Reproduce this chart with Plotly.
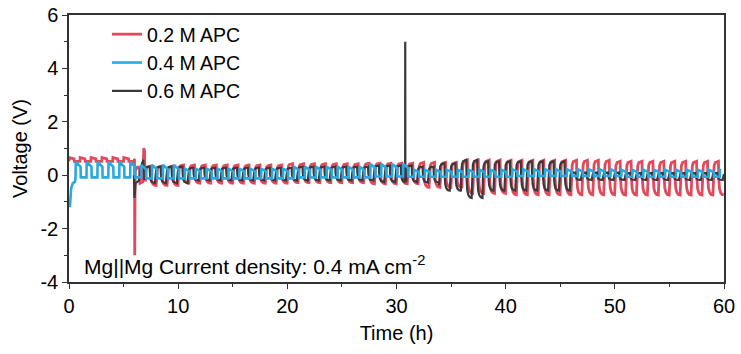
import plotly.graph_objects as go

PERIOD = 1.0  # h, one plating/stripping cycle

# axis ticks
x_tickvals = [0, 10, 20, 30, 40, 50, 60]
y_tickvals = [-4, -2, 0, 2, 4, 6]
y_ticktext = ["-4", "-2", "0", "2", "4", "6"]

# ---------------- 0.2 M APC (red) ----------------
red_pre_block_start = [0.0]
red_pre_high = [0.66]
red_pre_low = [0.52]
red_trans_t = [6.0, 6.02, 6.06, 6.25, 6.45, 6.5, 6.75, 6.85, 6.92, 6.97]
red_trans_v = [0.62, -3.0, 0.15, 0.30, 0.30, -0.30, -0.25, 1.02, 0.90, -0.10]
red_block_start = [7, 10, 20, 27, 32, 36, 40, 50]
red_high = [0.34, 0.38, 0.43, 0.45, 0.48, 0.57, 0.56, 0.52]
red_low = [-0.38, -0.30, -0.28, -0.32, -0.45, -0.68, -0.73, -0.74]

# ---------------- 0.4 M APC (blue) ----------------
blue_init_t = [0.08, 0.2, 0.35, 0.55]
blue_init_v = [-1.2, -0.48, -0.30, -0.25]
blue_block_start = [0.6, 6, 10, 20, 27, 31, 40, 50]
blue_high = [0.50, 0.38, 0.25, 0.32, 0.42, 0.20, 0.22, 0.20]
blue_low = [-0.08, -0.12, -0.12, -0.08, -0.05, -0.06, -0.03, -0.06]

# ---------------- 0.6 M APC (black) ----------------
black_init_t = [5.95, 6.0, 6.1, 6.4, 6.6, 6.8, 6.88]
black_init_v = [0.0, -0.85, -0.30, -0.20, 0.30, 0.58, 0.10]
black_block_start = [6.9, 10, 20, 27, 31, 33, 35, 37, 45, 50]
black_high = [0.32, 0.28, 0.32, 0.36, 0.32, 0.45, 0.58, 0.52, 0.10, 0.08]
black_low = [-0.30, -0.20, -0.20, -0.26, -0.28, -0.58, -0.85, -0.58, -0.18, -0.18]
black_spike_t = [30.79, 30.8, 30.81]
black_spike_v = [0.20, 5.0, 0.20]

# cycle templates (fraction of period, normalised level -1..1)
arch_f = [0.0, 0.03, 0.1, 0.2, 0.35, 0.49, 0.52, 0.58, 0.68, 0.82, 0.98]
arch_n = [-0.6, 0.3, 0.75, 0.92, 0.98, 1.0, 0.0, -0.6, -0.85, -0.97, -1.0]
square_f = [0.0, 0.02, 0.12, 0.46, 0.48, 0.98]
square_n = [-1.0, 1.0, 0.85, 0.35, -1.0, -1.0]


def cycling(t_end, block_start, high, low, shape_f, shape_n):
    ts, vs = [], []
    c = block_start[0]
    while c < t_end - 1e-9:
        k = max(i for i, b in enumerate(block_start) if b <= c + 1e-9)
        for f, n in zip(shape_f, shape_n):
            t = c + f * PERIOD
            if t > t_end:
                break
            ts.append(t)
            vs.append(low[k] + (n + 1) / 2 * (high[k] - low[k]))
        c += PERIOD
    return ts, vs


rt0, rv0 = cycling(6.0, red_pre_block_start, red_pre_high, red_pre_low, square_f, square_n)
rt1, rv1 = cycling(60.0, red_block_start, red_high, red_low, arch_f, arch_n)
red_t = rt0 + red_trans_t + rt1
red_v = rv0 + red_trans_v + rv1

bt1, bv1 = cycling(60.0, blue_block_start, blue_high, blue_low, square_f, square_n)
blue_t = blue_init_t + bt1
blue_v = blue_init_v + bv1

kt1, kv1 = cycling(60.0, black_block_start, black_high, black_low, arch_f, arch_n)
pairs = [(t, v) for t, v in zip(kt1, kv1) if not (black_spike_t[0] - 0.05 <= t <= black_spike_t[-1] + 0.05)]
pairs += list(zip(black_spike_t, black_spike_v))
pairs.sort()
black_t = black_init_t + [p[0] for p in pairs]
black_v = black_init_v + [p[1] for p in pairs]

RED = "#E04A5B"
BLUE = "#2AA8E0"
BLACK = "#3A3A3A"

fig = go.Figure()
fig.add_trace(go.Scatter(x=red_t, y=red_v, mode="lines", name="0.2 M APC",
                         line=dict(color=RED, width=2.8), legendrank=1))
fig.add_trace(go.Scatter(x=black_t, y=black_v, mode="lines", name="0.6 M APC",
                         line=dict(color=BLACK, width=2.2), legendrank=3))
fig.add_trace(go.Scatter(x=blue_t, y=blue_v, mode="lines", name="0.4 M APC",
                         line=dict(color=BLUE, width=2.6), legendrank=2))

FONT = "Liberation Sans, Arial, sans-serif"
axis_common = dict(showgrid=False, zeroline=False, showline=True, linecolor="#333333",
                   linewidth=1.5, mirror=True, ticks="outside", ticklen=5, tickwidth=1.2,
                   tickcolor="#333333", automargin=False,
                   tickfont=dict(family=FONT, size=20, color="black"))

fig.update_layout(
    width=741, height=354,
    margin=dict(l=69, r=17, t=15, b=72),
    paper_bgcolor="white", plot_bgcolor="white",
    font=dict(family=FONT, size=20, color="black"),
    xaxis=dict(range=[0, 60], tickvals=x_tickvals,
               title=dict(text="Time (h)", font=dict(size=20), standoff=10),
               minor=dict(ticks="outside", dtick=5, tick0=0, ticklen=3, tickcolor="#333333"),
               **axis_common),
    yaxis=dict(range=[-4, 6], tickvals=y_tickvals, ticktext=y_ticktext,
               title=dict(text="Voltage (V)", font=dict(size=20), standoff=7),
               minor=dict(ticks="outside", dtick=1, tick0=0, ticklen=3, tickcolor="#333333"),
               **axis_common),
    legend=dict(x=0.058, y=1.0, xanchor="left", yanchor="top", bgcolor="rgba(0,0,0,0)",
                font=dict(family=FONT, size=19.5), tracegroupgap=0),
    showlegend=True,
)

fig.add_annotation(x=0.02, y=0.065, xref="paper", yref="paper", xanchor="left", yanchor="middle",
                   showarrow=False, text="Mg||Mg Current density: 0.4 mA cm<sup>-2</sup>",
                   font=dict(family=FONT, size=21, color="black"))

fig.write_html("out.html", config={"displayModeBar": False})

# remove the browser's default page margin so the figure sits at the window origin
with open("out.html", "r", encoding="utf-8") as fh:
    html = fh.read()
html = html.replace("<head>", "<head><style>html,body{margin:0;padding:0;overflow:hidden;}</style>", 1)
with open("out.html", "w", encoding="utf-8") as fh:
    fh.write(html)
